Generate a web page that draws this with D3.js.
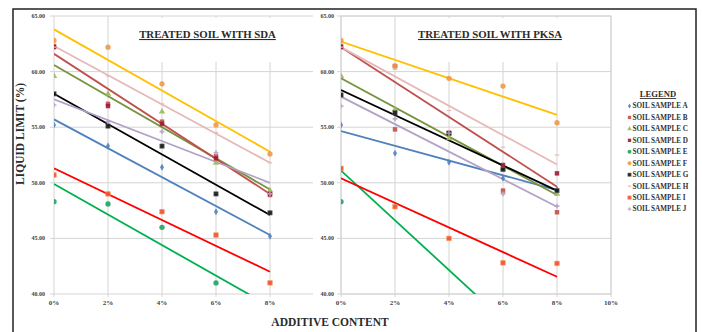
<!DOCTYPE html>
<html>
<head>
<meta charset="utf-8">
<script src="https://cdn.jsdelivr.net/npm/d3@7/dist/d3.min.js"></script>
<style>
  html, body { margin: 0; padding: 0; background: #fff; }
  svg text { font-family: "Liberation Serif", "Times New Roman", serif; font-weight: bold; }
</style>
</head>
<body>
<div id="chart"></div>
<script>
// additive content (%) at which samples were tested
const additive = [0, 2, 4, 6, 8];
const sampleNames = ['SOIL SAMPLE A', 'SOIL SAMPLE B', 'SOIL SAMPLE C', 'SOIL SAMPLE D', 'SOIL SAMPLE E',
  'SOIL SAMPLE F', 'SOIL SAMPLE G', 'SOIL SAMPLE H', 'SOIL SAMPLE I', 'SOIL SAMPLE J'];

// liquid limit (%) per sample, treated with SDA (null = off the chart)
const sdaValues = [
  [55.2, 53.3, 51.4, 47.4, 45.2],
  [62.3, 57.1, 55.5, 52.4, 48.9],
  [59.6, 58.0, 56.4, 51.8, 49.3],
  [62.2, 56.9, 55.3, 52.2, 49.0],
  [48.3, 48.1, 46.0, 41.0, null],
  [62.8, 62.2, 58.9, 55.2, 52.6],
  [58.0, 55.1, 53.3, 49.0, 47.3],
  [62.2, 59.6, 57.1, 54.5, 51.8],
  [50.7, 49.0, 47.4, 45.3, 41.0],
  [57.0, 55.5, 54.6, 52.7, 49.0]
];
// liquid limit (%) per sample, treated with PKSA
const pksaValues = [
  [55.2, 52.65, 51.85, 50.4, 49.4],
  [62.3, 54.8, 54.5, 49.3, 47.35],
  [59.6, 56.6, 54.0, 51.3, 49.0],
  [62.2, 60.5, 54.45, 51.6, 50.85],
  [48.3, null, null, null, null],
  [62.8, 60.5, 59.4, 58.7, 55.4],
  [57.9, 56.3, 54.45, 51.2, 49.3],
  [62.2, 60.2, 56.5, 53.2, 52.5],
  [51.3, 47.85, 45.0, 42.8, 42.75],
  [56.9, 55.75, 54.45, 49.0, 47.9]
];
// linear trend lines: value at 0% and at 8% (null = no trend line)
const sdaTrendStart = [55.7, null, 60.6, 61.6, 49.9, 63.8, 58.0, 62.3, 51.3, 57.5];
const sdaTrendEnd   = [45.3, null, 49.4, 49.0, 38.9, 52.8, 47.1, 51.8, 42.0, 50.0];
const pksaTrendStart = [54.65, null, 59.4, 62.2, 51.1, 62.7, 58.35, 62.2, 50.4, 57.75];
const pksaTrendEnd   = [49.35, null, 48.9, 49.65, 33.2, 56.1, 49.3, 51.65, 41.55, 47.85];

const yTicks = [40, 45, 50, 55, 60, 65];
const xTicksSda = [0, 2, 4, 6, 8];
const xTicksPksa = [0, 2, 4, 6, 8, 10];

const markerColors = ['#4F81BD', '#C0504D', '#9BBB59', '#9E1B32', '#1FA463', '#F0994A', '#111111', '#E6B9B8', '#F2473A', '#B3A2C7'];
const markerShapes = ['diamond', 'square', 'triangle', 'square', 'circle', 'circle', 'square', 'dash', 'square', 'cross'];
const trendColors = ['#4F81BD', '#C0504D', '#77933C', '#C0504D', '#00B050', '#FFC000', '#000000', '#E6B9B8', '#FF0000', '#B3A2C7'];

const width = 702, height = 332;
const gridColor = '#D4D4D4';
const textColor = '#2b2b2b';

const svg = d3.select('#chart').append('svg')
  .attr('width', width)
  .attr('height', height);

const y = d3.scaleLinear().domain([40, 65]).range([294, 16]);

// outer frame
svg.append('rect')
  .attr('x', 13).attr('y', 9)
  .attr('width', 683).attr('height', 340)
  .attr('fill', 'none')
  .attr('stroke', '#222').attr('stroke-width', 1.5);

function drawMarker(g, shape, color, cx, cy, k = 1) {
  if (shape === 'dash') {
    g.append('rect').attr('x', cx - 2.2 * k).attr('y', cy - 0.6).attr('width', 4.4 * k).attr('height', 1.2).attr('fill', color);
    return;
  }
  const types = { diamond: d3.symbolDiamond, square: d3.symbolSquare, triangle: d3.symbolTriangle, circle: d3.symbolCircle, cross: d3.symbolCross };
  const sizes = { diamond: 14, square: 20, triangle: 18, circle: 22, cross: 13 };
  const p = g.append('path')
    .attr('d', d3.symbol().type(types[shape]).size(sizes[shape] * k * k)())
    .attr('transform', `translate(${cx},${cy})`)
    .attr('fill', color)
    .attr('fill-opacity', 0.9);
  if (shape === 'square' && color === '#F2473A') p.attr('stroke', '#F79646').attr('stroke-width', 0.7);
  if (shape === 'square' && color === '#111111') p.attr('stroke', '#777').attr('stroke-width', 0.5);
}

function drawPanel(opts) {
  const { x, xTicks, clipRight, plotRight, values, trendStart, trendEnd, title, titleBox, labelRight, border, id } = opts;
  const g = svg.append('g');
  const left = x(0);

  if (border) {
    g.append('rect')
      .attr('x', left).attr('y', y(65))
      .attr('width', plotRight - left).attr('height', y(40) - y(65))
      .attr('fill', '#fff').attr('stroke', gridColor);
  }

  // horizontal grid
  g.selectAll('.hgrid').data(yTicks).enter().append('line')
    .attr('x1', left - 4).attr('x2', plotRight)
    .attr('y1', d => y(d)).attr('y2', d => y(d))
    .attr('stroke', gridColor).attr('stroke-width', 1);

  // vertical grid
  g.selectAll('.vgrid').data(xTicks).enter().append('line')
    .attr('x1', d => x(d)).attr('x2', d => x(d))
    .attr('y1', y(65)).attr('y2', y(40) + 3)
    .attr('stroke', gridColor).attr('stroke-width', 1);

  // title with white background
  g.append('rect')
    .attr('x', titleBox[0]).attr('y', 18)
    .attr('width', titleBox[1] - titleBox[0]).attr('height', 44)
    .attr('fill', '#fff');
  g.append('text')
    .attr('x', (titleBox[0] + titleBox[1]) / 2).attr('y', 38)
    .attr('text-anchor', 'middle')
    .attr('font-size', 10.8)
    .attr('fill', textColor)
    .style('text-decoration', 'underline')
    .text(title);

  // tick labels
  g.selectAll('.ylab').data(yTicks).enter().append('text')
    .attr('x', labelRight).attr('y', d => y(d) + 2)
    .attr('text-anchor', 'end')
    .attr('font-size', 6)
    .attr('fill', '#444')
    .text(d => d3.format('.2f')(d));
  g.selectAll('.xlab').data(xTicks).enter().append('text')
    .attr('x', d => x(d)).attr('y', 305)
    .attr('text-anchor', 'middle')
    .attr('font-size', 7)
    .attr('fill', '#444')
    .text(d => d + '%');

  svg.append('clipPath').attr('id', id)
    .append('rect')
    .attr('x', left).attr('y', y(65))
    .attr('width', clipRight - left).attr('height', y(40) - y(65));

  const plot = g.append('g').attr('clip-path', `url(#${id})`);

  // trend lines
  trendStart.forEach((s, i) => {
    if (s == null) return;
    plot.append('line')
      .attr('x1', x(0)).attr('y1', y(s))
      .attr('x2', x(8)).attr('y2', y(trendEnd[i]))
      .attr('stroke', trendColors[i])
      .attr('stroke-width', 1.8);
  });

  // markers
  values.forEach((row, i) => {
    row.forEach((v, j) => {
      if (v == null) return;
      drawMarker(plot, markerShapes[i], markerColors[i], x(additive[j]), y(v));
    });
  });
}

drawPanel({
  id: 'clip-sda',
  x: d3.scaleLinear().domain([0, 10]).range([54, 324]),
  xTicks: xTicksSda,
  plotRight: 313,
  clipRight: 313,
  values: sdaValues,
  trendStart: sdaTrendStart,
  trendEnd: sdaTrendEnd,
  title: 'TREATED SOIL WITH SDA',
  titleBox: [128, 287],
  labelRight: 45,
  border: false
});

drawPanel({
  id: 'clip-pksa',
  x: d3.scaleLinear().domain([0, 10]).range([341, 611]),
  xTicks: xTicksPksa,
  plotRight: 611,
  clipRight: 611,
  values: pksaValues,
  trendStart: pksaTrendStart,
  trendEnd: pksaTrendEnd,
  title: 'TREATED SOIL WITH PKSA',
  titleBox: [409, 571],
  labelRight: 334,
  border: true
});

// axis titles
svg.append('text')
  .attr('transform', 'translate(24,134) rotate(-90)')
  .attr('text-anchor', 'middle')
  .attr('font-size', 11.5)
  .attr('fill', textColor)
  .text('LIQUID LIMIT (%)');

svg.append('text')
  .attr('x', 330).attr('y', 326)
  .attr('text-anchor', 'middle')
  .attr('font-size', 11.5)
  .attr('fill', textColor)
  .text('ADDITIVE CONTENT');

// legend
const legend = svg.append('g');
legend.append('text')
  .attr('x', 658).attr('y', 97)
  .attr('text-anchor', 'middle')
  .attr('font-size', 8.6)
  .attr('fill', textColor)
  .style('text-decoration', 'underline')
  .text('LEGEND');

sampleNames.forEach((name, i) => {
  const cy = 106 + i * 11.45;
  drawMarker(legend, markerShapes[i], markerColors[i], 629.5, cy, 0.75);
  legend.append('text')
    .attr('x', 632.5).attr('y', cy + 2.4)
    .attr('font-size', 7.2)
    .attr('fill', '#333')
    .text(name);
});
</script>
</body>
</html>
